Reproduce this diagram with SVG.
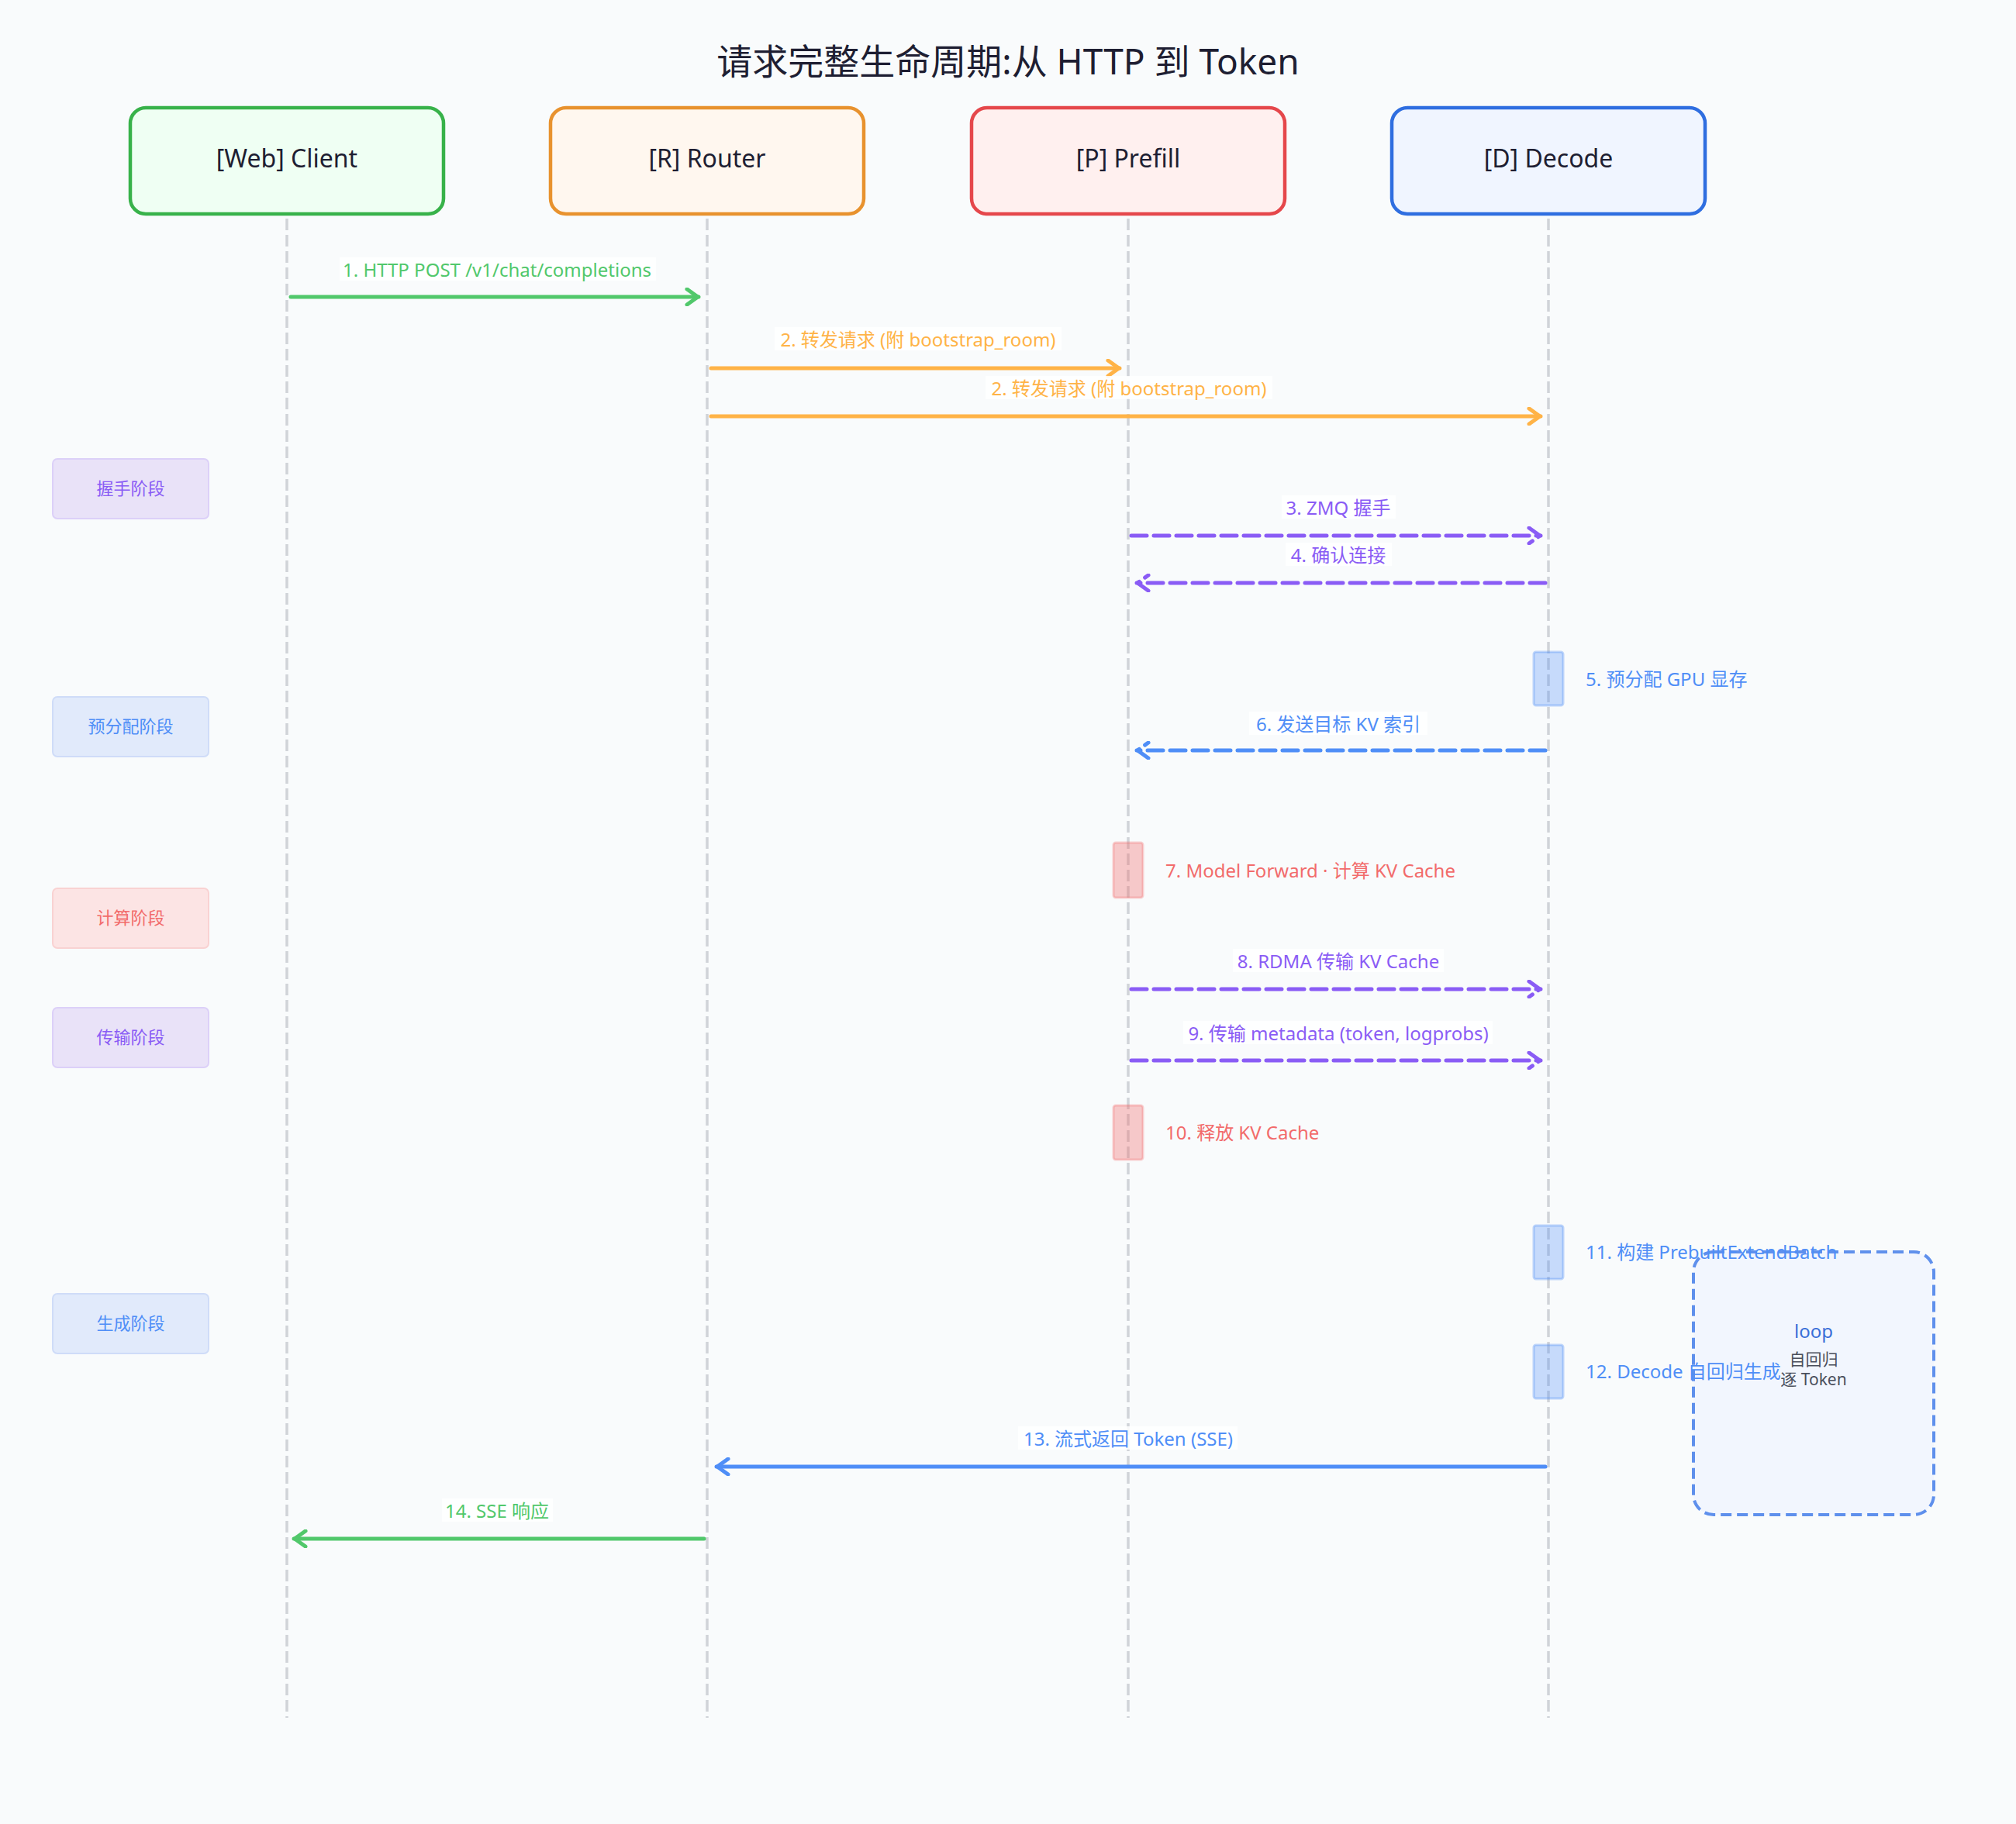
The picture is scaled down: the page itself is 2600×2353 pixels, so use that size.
<svg xmlns="http://www.w3.org/2000/svg" width="2600" height="2353" viewBox="0 0 2600 2353">
<defs>
<style>
text{font-family:"Noto Sans","Noto Sans CJK SC",sans-serif;}
.title{font-size:46px;fill:#1e1e32;text-anchor:middle;dominant-baseline:central;}
.actor-label{font-size:32px;fill:#1e1e32;text-anchor:middle;dominant-baseline:central;}
.life{stroke:#d0d3d8;stroke-width:3.5;stroke-dasharray:15 6;fill:none;}
.msg{font-size:24px;text-anchor:middle;dominant-baseline:central;}
.note{font-size:24px;dominant-baseline:central;}
.lbg{fill:#ffffff;opacity:0.85;}
.line{fill:none;stroke-width:5;stroke-linecap:round;}
.dash{stroke-dasharray:20 9;}
.phase-label{font-size:22px;text-anchor:middle;dominant-baseline:central;}
.green{stroke:#51c86b;fill:#51c86b;}
.orange{stroke:#ffb347;fill:#ffb347;}
.purple{stroke:#8a5cf5;fill:#8a5cf5;}
.blue{stroke:#4f8ef7;fill:#4f8ef7;}
.tgreen{fill:#51c86b;}
.torange{fill:#ffb347;}
.tpurple{fill:#8a5cf5;}
.tblue{fill:#4f8ef7;}
.tred{fill:#f26b6b;}
.actD{fill:#4f8ef7;fill-opacity:0.3;stroke:#4f8ef7;stroke-opacity:0.35;stroke-width:3;}
.actP{fill:#f26b6b;fill-opacity:0.35;stroke:#f26b6b;stroke-opacity:0.3;stroke-width:3;}
</style>
<marker id="ahG" viewBox="0 0 20 24" refX="18" refY="12" markerWidth="20" markerHeight="24" markerUnits="userSpaceOnUse" orient="auto"><polyline points="3,2 17,12 3,22" fill="none" stroke="#51c86b" stroke-width="5" stroke-linecap="round" stroke-linejoin="round"/></marker>
<marker id="ahO" viewBox="0 0 20 24" refX="18" refY="12" markerWidth="20" markerHeight="24" markerUnits="userSpaceOnUse" orient="auto"><polyline points="3,2 17,12 3,22" fill="none" stroke="#ffb347" stroke-width="5" stroke-linecap="round" stroke-linejoin="round"/></marker>
<marker id="ahP" viewBox="0 0 20 24" refX="18" refY="12" markerWidth="20" markerHeight="24" markerUnits="userSpaceOnUse" orient="auto"><polyline points="3,2 17,12 3,22" fill="none" stroke="#8a5cf5" stroke-width="5" stroke-linecap="round" stroke-linejoin="round" stroke-dasharray="20 9"/></marker>
<marker id="ahB" viewBox="0 0 20 24" refX="18" refY="12" markerWidth="20" markerHeight="24" markerUnits="userSpaceOnUse" orient="auto"><polyline points="3,2 17,12 3,22" fill="none" stroke="#4f8ef7" stroke-width="5" stroke-linecap="round" stroke-linejoin="round"/></marker>
<marker id="ahBd" viewBox="0 0 20 24" refX="18" refY="12" markerWidth="20" markerHeight="24" markerUnits="userSpaceOnUse" orient="auto"><polyline points="3,2 17,12 3,22" fill="none" stroke="#4f8ef7" stroke-width="5" stroke-linecap="round" stroke-linejoin="round" stroke-dasharray="20 9"/></marker>
</defs>
<rect x="0" y="0" width="2600" height="2353" fill="#f9fbfc"/>
<text class="title" x="1300" y="78">请求完整生命周期:从 HTTP 到 Token</text>

<g id="lifelines">
<line class="life" x1="370" y1="282" x2="370" y2="2216"/>
<line class="life" x1="912" y1="282" x2="912" y2="2216"/>
<line class="life" x1="1455" y1="282" x2="1455" y2="2216"/>
<line class="life" x1="1997" y1="282" x2="1997" y2="2216"/>
</g>

<g id="actor-client">
<rect x="168" y="139" width="404" height="137" rx="20" fill="#effff3" stroke="#38b24a" stroke-width="4.5"/>
<text class="actor-label" x="370" y="203">[Web] Client</text>
</g>
<g id="actor-router">
<rect x="710" y="139" width="404" height="137" rx="20" fill="#fff7ef" stroke="#e8922e" stroke-width="4.5"/>
<text class="actor-label" x="912" y="203">[R] Router</text>
</g>
<g id="actor-prefill">
<rect x="1253" y="139" width="404" height="137" rx="20" fill="#fff0ef" stroke="#e5474b" stroke-width="4.5"/>
<text class="actor-label" x="1455" y="203">[P] Prefill</text>
</g>
<g id="actor-decode">
<rect x="1795" y="139" width="404" height="137" rx="20" fill="#f0f5ff" stroke="#2f6ee0" stroke-width="4.5"/>
<text class="actor-label" x="1997" y="203">[D] Decode</text>
</g>

<g id="phase-handshake">
<rect x="68" y="592" width="201" height="77" rx="6" fill="#e9e2f8" stroke="#dcd0f8" stroke-width="2"/>
<text class="phase-label tpurple" x="168.5" y="629">握手阶段</text>
</g>
<g id="phase-prealloc">
<rect x="68" y="899" width="201" height="77" rx="6" fill="#e1eafb" stroke="#cfdcf8" stroke-width="2"/>
<text class="phase-label tblue" x="168.5" y="936">预分配阶段</text>
</g>
<g id="phase-compute">
<rect x="68" y="1146" width="201" height="77" rx="6" fill="#fce4e4" stroke="#f9d2d2" stroke-width="2"/>
<text class="phase-label tred" x="168.5" y="1183">计算阶段</text>
</g>
<g id="phase-transfer">
<rect x="68" y="1300" width="201" height="77" rx="6" fill="#e9e2f8" stroke="#dcd0f8" stroke-width="2"/>
<text class="phase-label tpurple" x="168.5" y="1337">传输阶段</text>
</g>
<g id="phase-generate">
<rect x="68" y="1669" width="201" height="77" rx="6" fill="#e1eafb" stroke="#cfdcf8" stroke-width="2"/>
<text class="phase-label tblue" x="168.5" y="1706">生成阶段</text>
</g>

<g id="loop-frame">
<rect x="2184" y="1615" width="310" height="339" rx="26" fill="#f2f6fe" stroke="#5f90ec" stroke-width="4" stroke-dasharray="14 7"/>
<text x="2339" y="1716" font-size="24" fill="#3a6fd8" text-anchor="middle" dominant-baseline="central">loop</text>
<text x="2339" y="1753" font-size="21" fill="#4a4f5c" text-anchor="middle" dominant-baseline="central">自回归</text>
<text x="2339" y="1779" font-size="21" fill="#4a4f5c" text-anchor="middle" dominant-baseline="central">逐 Token</text>
</g>

<g id="activations">
<rect class="actD" x="1978" y="841" width="38" height="69" rx="3"/>
<rect class="actP" x="1436" y="1087" width="38" height="71" rx="3"/>
<rect class="actP" x="1436" y="1426" width="38" height="70" rx="3"/>
<rect class="actD" x="1978" y="1581" width="38" height="69" rx="3"/>
<rect class="actD" x="1978" y="1735" width="38" height="69" rx="3"/>
<text class="note tblue" x="2045" y="875">5. 预分配 GPU 显存</text>
<text class="note tred" x="1503" y="1122">7. Model Forward · 计算 KV Cache</text>
<text class="note tred" x="1503" y="1460">10. 释放 KV Cache</text>
<text class="note tblue" x="2045" y="1614">11. 构建 PrebuiltExtendBatch</text>
<text class="note tblue" x="2045" y="1768">12. Decode 自回归生成</text>
</g>

<g id="connectors">
<g id="m1">
<rect class="lbg" x="438" y="332" width="408" height="30"/>
<text class="msg tgreen" x="641" y="347">1. HTTP POST /v1/chat/completions</text>
<line class="line green" x1="375" y1="383" x2="901" y2="383" marker-end="url(#ahG)"/>
</g>
<g id="m2a">
<rect class="lbg" x="999" y="422" width="370" height="30"/>
<text class="msg torange" x="1184" y="437">2. 转发请求 (附 bootstrap_room)</text>
<line class="line orange" x1="917" y1="475" x2="1444" y2="475" marker-end="url(#ahO)"/>
</g>
<g id="m2b">
<rect class="lbg" x="1271" y="485" width="370" height="30"/>
<text class="msg torange" x="1456" y="500">2. 转发请求 (附 bootstrap_room)</text>
<line class="line orange" x1="917" y1="537" x2="1987" y2="537" marker-end="url(#ahO)"/>
</g>
<g id="m3">
<rect class="lbg" x="1653" y="639" width="147" height="30"/>
<text class="msg tpurple" x="1726" y="654">3. ZMQ 握手</text>
<line class="line purple dash" x1="1459" y1="691" x2="1987" y2="691" marker-end="url(#ahP)"/>
</g>
<g id="m4">
<rect class="lbg" x="1658" y="700" width="137" height="30"/>
<text class="msg tpurple" x="1726" y="715">4. 确认连接</text>
<line class="line purple dash" x1="1993" y1="752" x2="1466" y2="752" marker-end="url(#ahP)"/>
</g>
<g id="m6">
<rect class="lbg" x="1611" y="918" width="230" height="30"/>
<text class="msg tblue" x="1726" y="933">6. 发送目标 KV 索引</text>
<line class="line blue dash" x1="1993" y1="968" x2="1466" y2="968" marker-end="url(#ahBd)"/>
</g>
<g id="m8">
<rect class="lbg" x="1590" y="1224" width="272" height="30"/>
<text class="msg tpurple" x="1726" y="1239">8. RDMA 传输 KV Cache</text>
<line class="line purple dash" x1="1459" y1="1276" x2="1987" y2="1276" marker-end="url(#ahP)"/>
</g>
<g id="m9">
<rect class="lbg" x="1526" y="1317" width="399" height="30"/>
<text class="msg tpurple" x="1726" y="1332">9. 传输 metadata (token, logprobs)</text>
<line class="line purple dash" x1="1459" y1="1368" x2="1987" y2="1368" marker-end="url(#ahP)"/>
</g>
<g id="m13">
<rect class="lbg" x="1313" y="1840" width="283" height="30"/>
<text class="msg tblue" x="1455" y="1855">13. 流式返回 Token (SSE)</text>
<line class="line blue" x1="1993" y1="1892" x2="924" y2="1892" marker-end="url(#ahB)"/>
</g>
<g id="m14">
<rect class="lbg" x="570" y="1933" width="143" height="30"/>
<text class="msg tgreen" x="641" y="1948">14. SSE 响应</text>
<line class="line green" x1="908" y1="1985" x2="379" y2="1985" marker-end="url(#ahG)"/>
</g>
</g>
</svg>
